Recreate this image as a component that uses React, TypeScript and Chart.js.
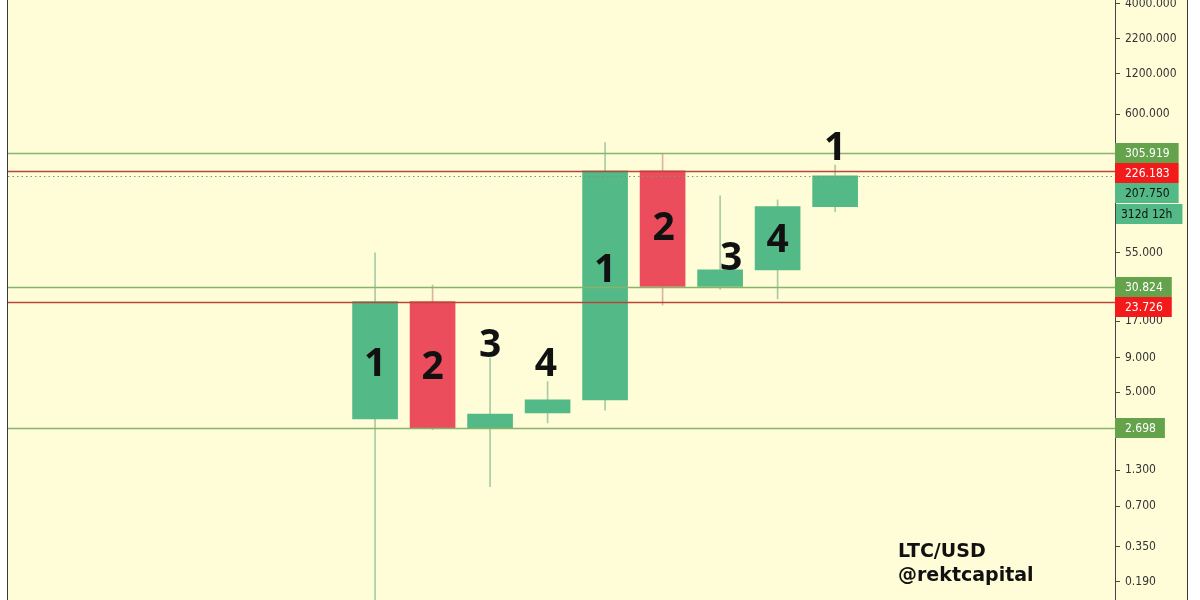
import React, { useEffect, useRef } from "react";
import { Chart, registerables } from "chart.js";

Chart.register(...registerables);

// ---- data (yearly LTC/USD candles) ----
const candleIndex = [0, 1, 2, 3, 4, 5, 6, 7, 8];
const opens = [3.15, 23.73, 2.7, 3.49, 4.37, 226.18, 30.82, 41.0, 122.0];
const closes = [23.73, 2.7, 3.43, 4.37, 226.18, 30.82, 41.0, 122.0, 207.75];
const highs = [55, 31.6, 9.0, 6.0, 367, 305.9, 147, 137, 250];
const lows = [0.1, 2.62, 0.98, 2.94, 3.67, 22.4, 29.5, 24.9, 112];

const candleLabels = ["1", "2", "3", "4", "1", "2", "3", "4", "1"];
const labelValues = [8.4, 7.98, 11.65, 8.4, 42.4, 87.4, 52.1, 71.1, 346.7];
const labelShift = [0, 0, 0, -0.03, 0, 0.02, 0.19, 0, 0];

const tickValues = [4000, 2200, 1200, 600, 55, 17, 9, 5, 1.3, 0.7, 0.35, 0.19];
const levelValues = [305.919, 226.183, 30.824, 23.726, 2.698];
const levelKinds = ["green", "red", "green", "red", "green"];
const currentPrice = 207.75;
const countdownText = "312d 12h";
const watermarkLines = ["LTC/USD", "@rektcapital"];

const yMin = 0.1393;
const yMax = 4285;
const xMin = -6.383;
const xMax = 12.867;

// ---- styles ----
const BG = "#fffdd8";
const UP = "#53b987";
const DOWN = "#eb4d5c";
const UP_WICK = "rgba(110,170,130,0.6)";
const DOWN_WICK = "rgba(190,120,110,0.55)";
const LINE_GREEN = "#86b46a";
const LINE_RED = "#b8473b";
const BOX_GREEN = "#64a24c";
const BOX_RED = "#f21a1a";
const BOX_TEAL = "#53b987";
const AXIS_FONT = '"DejaVu Sans Condensed", "Liberation Sans", sans-serif';

const overlayPlugin = {
  id: "overlay",
  beforeDraw(chart: any) {
    const { ctx, width, height } = chart;
    ctx.save();
    ctx.fillStyle = BG;
    ctx.fillRect(0, 0, width, height);
    ctx.fillStyle = "#3a3a3a";
    ctx.fillRect(0, 0, 1, height);
    ctx.fillRect(width - 1, 0, 1, height);
    ctx.restore();
  },
  afterDatasetsDraw(chart: any) {
    const { ctx, chartArea } = chart;
    const x = chart.scales.x;
    const y = chart.scales.y;
    ctx.save();
    // current price dotted line
    const cy = Math.round(y.getPixelForValue(currentPrice)) + 0.5;
    ctx.setLineDash([1.5, 3]);
    ctx.strokeStyle = "#6f9c7a";
    ctx.lineWidth = 1;
    ctx.beginPath();
    ctx.moveTo(chartArea.left, cy);
    ctx.lineTo(chartArea.right, cy);
    ctx.stroke();
    ctx.setLineDash([]);
    // levels
    levelValues.forEach((v, i) => {
      const py = Math.round(y.getPixelForValue(v)) + 0.5;
      ctx.strokeStyle = levelKinds[i] === "green" ? LINE_GREEN : LINE_RED;
      ctx.lineWidth = 1.5;
      ctx.beginPath();
      ctx.moveTo(chartArea.left, py);
      ctx.lineTo(chartArea.right, py);
      ctx.stroke();
    });
    // candle count labels
    ctx.fillStyle = "#111";
    ctx.font = 'bold 39px "Noto Sans", sans-serif';
    ctx.textAlign = "center";
    ctx.textBaseline = "alphabetic";
    candleLabels.forEach((t, i) => {
      const px = x.getPixelForValue(candleIndex[i] + labelShift[i]);
      const py = y.getPixelForValue(labelValues[i]);
      ctx.fillText(t, px, py + 14.2);
    });
    ctx.restore();
  },
  afterDraw(chart: any) {
    const { ctx } = chart;
    const y = chart.scales.y;
    ctx.save();
    ctx.font = "12px " + AXIS_FONT;
    ctx.textBaseline = "middle";
    ctx.textAlign = "left";
    const boxH = 20;
    const left = y.left;
    const textX = y.left + 10;
    const groups: any[][] = [
      [
        { v: levelValues[0], bg: BOX_GREEN, fg: "#fff", text: levelValues[0].toFixed(3) },
        { v: levelValues[1], bg: BOX_RED, fg: "#fff", text: levelValues[1].toFixed(3) },
        { v: currentPrice, bg: BOX_TEAL, fg: "#111", text: currentPrice.toFixed(3), countdown: true },
      ],
      [
        { v: levelValues[2], bg: BOX_GREEN, fg: "#fff", text: levelValues[2].toFixed(3) },
        { v: levelValues[3], bg: BOX_RED, fg: "#fff", text: levelValues[3].toFixed(3) },
      ],
      [{ v: levelValues[4], bg: BOX_GREEN, fg: "#fff", text: levelValues[4].toFixed(3) }],
    ];
    groups.forEach((g) => {
      let prevBottom = -Infinity;
      g.forEach((b) => {
        let top = y.getPixelForValue(b.v) - boxH / 2;
        if (top < prevBottom) top = prevBottom;
        top = Math.round(top);
        const w = ctx.measureText(b.text).width;
        ctx.fillStyle = b.bg;
        ctx.fillRect(left, top, textX + w + 9 - left, boxH);
        ctx.fillStyle = b.fg;
        ctx.fillText(b.text, textX, top + boxH / 2 + 0.5);
        prevBottom = top + boxH;
        if (b.countdown) {
          const ct = prevBottom + 1;
          const cw = ctx.measureText(countdownText).width;
          ctx.fillStyle = BOX_TEAL;
          ctx.fillRect(left + 1, ct, cw + 15, boxH);
          ctx.fillStyle = "#111";
          ctx.fillText(countdownText, left + 6, ct + boxH / 2 + 0.5);
        }
      });
    });
    // watermark
    ctx.fillStyle = "#111";
    ctx.font = 'bold 19px "DejaVu Sans", sans-serif';
    ctx.textBaseline = "alphabetic";
    ctx.fillText(watermarkLines[0], 891, 557);
    ctx.fillText(watermarkLines[1], 891, 581);
    ctx.restore();
  },
};

export default function App() {
  const canvasRef = useRef<HTMLCanvasElement | null>(null);

  useEffect(() => {
    const canvas = canvasRef.current;
    if (!canvas) return;
    const isUp = opens.map((o, i) => closes[i] >= o);
    const chart = new Chart(canvas, {
      type: "bar",
      data: {
        datasets: [
          {
            label: "body",
            data: candleIndex.map((xv, i) => ({
              x: xv,
              y: [Math.min(opens[i], closes[i]), Math.max(opens[i], closes[i])],
            })) as any,
            backgroundColor: isUp.map((u) => (u ? UP : DOWN)),
            borderWidth: 0,
            barThickness: 45,
            grouped: false,
          } as any,
          {
            label: "wick",
            data: candleIndex.map((xv, i) => ({ x: xv, y: [lows[i], highs[i]] })) as any,
            backgroundColor: isUp.map((u) => (u ? UP_WICK : DOWN_WICK)),
            borderWidth: 0,
            barThickness: 1,
            grouped: false,
          } as any,
        ],
      },
      options: {
        animation: false,
        responsive: false,
        maintainAspectRatio: false,
        events: [],
        layout: { padding: { left: 1, right: 0, top: 0, bottom: 0 } },
        plugins: { legend: { display: false }, tooltip: { enabled: false } },
        scales: {
          x: {
            type: "linear",
            min: xMin,
            max: xMax,
            bounds: "data",
            offset: false,
            grid: { offset: false },
            display: false,
          },
          y: {
            type: "logarithmic",
            position: "right",
            min: yMin,
            max: yMax,
            bounds: "data",
            grid: {
              drawOnChartArea: false,
              drawTicks: true,
              tickLength: 5,
              color: "#444",
            },
            border: { display: true, color: "#444", width: 1 },
            ticks: {
              autoSkip: false,
              maxRotation: 0,
              minRotation: 0,
              padding: 5,
              color: "#333",
              font: { family: AXIS_FONT, size: 12 },
              callback: (v: any) => Number(v).toFixed(3),
            },
            afterBuildTicks: (scale: any) => {
              scale.ticks = tickValues.map((value) => ({ value }));
            },
            afterFit: (scale: any) => {
              scale.width = 73;
              scale.paddingTop = 0;
              scale.paddingBottom = 0;
            },
          } as any,
        },
      } as any,
      plugins: [overlayPlugin as any],
    });
    return () => chart.destroy();
  }, []);

  return (
    <div
      style={{
        position: "fixed",
        left: 0,
        top: 0,
        width: 1200,
        height: 600,
        background: "#fff",
        overflow: "hidden",
      }}
    >
      <canvas
        ref={canvasRef}
        width={1181}
        height={600}
        style={{ position: "absolute", left: 7, top: 0, width: 1181, height: 600 }}
      />
    </div>
  );
}
